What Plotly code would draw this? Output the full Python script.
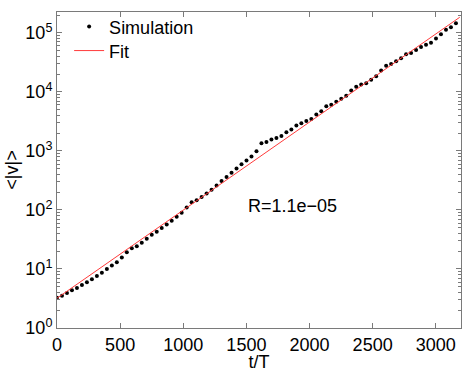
import plotly.graph_objects as go

# time samples (t/T) of the simulation points
t_sim = [0, 39.5, 79, 118.5, 158, 197.5, 237, 276.5, 316, 355.5,
         395, 434.5, 474, 513.5, 553, 592.5, 632, 671.5, 711, 750.5,
         790, 829.5, 869, 908.5, 948, 987.5, 1027, 1066.5, 1106, 1145.5,
         1185, 1224.5, 1264, 1303.5, 1343, 1382.5, 1422, 1461.5, 1501, 1540.5,
         1580, 1619.5, 1659, 1698.5, 1738, 1777.5, 1817, 1856.5, 1896, 1935.5,
         1975, 2014.5, 2054, 2093.5, 2133, 2172.5, 2212, 2251.5, 2291, 2330.5,
         2370, 2409.5, 2449, 2488.5, 2528, 2567.5, 2607, 2646.5, 2686, 2725.5,
         2765, 2804.5, 2844, 2883.5, 2923, 2962.5, 3002, 3041.5, 3081, 3120.5,
         3160]

# <|v|>
v_sim = [3.27, 3.53, 3.92, 4.36, 4.76, 5.35, 5.94, 6.67, 7.58, 8.61,
         9.94, 11.5, 13.0, 15.6, 19.2, 22.4, 24.2, 27.7, 32.6, 38.1,
         42.8, 49.2, 56.8, 65.5, 76.5, 89.3, 110, 135, 146, 166,
         189, 220, 260, 310, 361, 425, 502, 596, 685, 800,
         986, 1343, 1413, 1567, 1649, 1782, 2080, 2311, 2698, 2950,
         3213, 3484, 4130, 4690, 5690, 6080, 6830, 7670, 8610, 10590,
         12220, 13350, 14040, 16020, 18410, 22960, 27660, 29780, 32920, 36950,
         43170, 45580, 51190, 57510, 62850, 67920, 80200, 95100, 112300, 124700,
         145600]

# exponential fit endpoints
t_fit = [0, 3190]
v_fit = [3.2, 183700]

y_tickvals = [1, 10, 100, 1000, 10000, 100000]
y_ticktext = ["10<sup>0</sup>", "10<sup>1</sup>", "10<sup>2</sup>",
              "10<sup>3</sup>", "10<sup>4</sup>", "10<sup>5</sup>"]
x_tickvals = [0, 500, 1000, 1500, 2000, 2500, 3000]

FONT = "Liberation Sans, Arial, sans-serif"
AXIS_COLOR = "#7a7a7a"
FS = 18

fig = go.Figure()
fig.add_trace(go.Scatter(x=t_sim, y=v_sim, mode="markers", name="Simulation",
                         marker=dict(color="black", size=4), legend="legend"))
fig.add_trace(go.Scatter(x=t_fit, y=v_fit, mode="lines", name="Fit",
                         line=dict(color="#ff3b3b", width=1), legend="legend2"))

fig.add_annotation(x=1500, y=2.074, xref="x", yref="y", text="R=1.1e\u221205",
                   showarrow=False, xanchor="left", yanchor="middle",
                   font=dict(size=FS, color="black", family=FONT))

# two separate legends so the rows sit as tightly as in the original
leg = dict(x=0.03, xanchor="left", yanchor="middle",
           bgcolor="rgba(0,0,0,0)", font=dict(size=FS), itemwidth=30)

fig.update_layout(
    width=469, height=372,
    margin=dict(l=57, r=8, t=10, b=44),
    paper_bgcolor="white", plot_bgcolor="white",
    font=dict(family=FONT, size=FS, color="black"),
    showlegend=True,
    legend=dict(leg, y=0.953),
    legend2=dict(leg, y=0.877),
)

fig.update_xaxes(
    range=[0, 3200], tickvals=x_tickvals, automargin=False,
    showgrid=False, zeroline=False,
    showline=True, linecolor=AXIS_COLOR, linewidth=1, mirror="ticks",
    ticks="inside", ticklen=5, tickcolor=AXIS_COLOR,
    title=dict(text="t/T", standoff=0, font=dict(size=FS)),
)
fig.update_yaxes(
    type="log", range=[0, 5.353], tickvals=y_tickvals, ticktext=y_ticktext,
    automargin=False,
    showgrid=False, zeroline=False,
    showline=True, linecolor=AXIS_COLOR, linewidth=1, mirror="ticks",
    ticks="inside", ticklen=5, tickcolor=AXIS_COLOR,
    minor=dict(ticks="inside", ticklen=3, tickcolor=AXIS_COLOR, dtick="D1", showgrid=False),
    title=dict(text="&lt;|v|&gt;", standoff=2, font=dict(size=FS)),
)

# the page's default body margin would push the chart 8px off the window
fig.write_html("out.html", config={"displayModeBar": False},
               post_script="document.body.style.margin='0px';")
